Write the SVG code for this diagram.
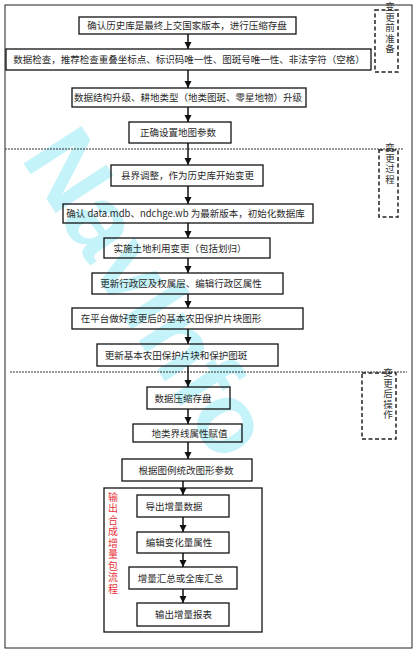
<svg xmlns="http://www.w3.org/2000/svg" width="419" height="652" viewBox="0 0 419 652">
<defs>
<style>
.box{fill:none;stroke:#111;stroke-width:1.3}
.t{font-family:"Noto Sans CJK SC","Liberation Serif",serif;font-size:9.5px;fill:#2a2a2a;text-anchor:middle}
.side{font-family:"Noto Sans CJK SC",sans-serif;font-size:9.5px;fill:#333;writing-mode:vertical-rl;letter-spacing:1px}
.red{font-family:"Noto Sans CJK SC",sans-serif;font-size:10px;fill:#e8333a;writing-mode:vertical-rl;letter-spacing:1.5px}
.dbox{fill:none;stroke:#222;stroke-width:1.5;stroke-dasharray:4 2.5}
.hd{stroke:#333;stroke-width:1;stroke-dasharray:2 1}
.c{stroke:#111;stroke-width:1.5;fill:none;marker-end:url(#ah)}
</style>
<marker id="ah" markerUnits="userSpaceOnUse" markerWidth="8" markerHeight="8" refX="7" refY="4" orient="auto">
<path d="M0,0.5 L7,4 L0,7.5 Z" fill="#111"/>
</marker>
</defs>
<rect x="0" y="0" width="419" height="652" fill="#fff"/>
<g id="watermark" opacity="0.3">
<text x="0" y="0" transform="translate(20,158) rotate(57)" font-family="Liberation Sans,sans-serif" font-weight="bold" font-size="100" fill="#3fd8ee">NavInfo</text>
</g>
<rect x="5" y="5" width="407" height="643" fill="none" stroke="#222" stroke-width="1"/>
<line class="hd" x1="5" y1="149" x2="404" y2="149"/>
<line class="hd" x1="10" y1="372" x2="407" y2="372"/>
<g id="connectors">
<line class="c" x1="188" y1="34" x2="188" y2="49"/>
<line class="c" x1="188" y1="70" x2="188" y2="88"/>
<line class="c" x1="188" y1="107" x2="188" y2="122"/>
<line class="c" x1="188" y1="143" x2="188" y2="165"/>
<line class="c" x1="188" y1="186" x2="188" y2="204"/>
<line class="c" x1="188" y1="223" x2="188" y2="238"/>
<line class="c" x1="188" y1="258" x2="188" y2="273"/>
<line class="c" x1="188" y1="294" x2="188" y2="308"/>
<line class="c" x1="188" y1="329" x2="188" y2="344"/>
<line class="c" x1="188" y1="366" x2="188" y2="387"/>
<line class="c" x1="188" y1="409" x2="188" y2="424"/>
<line class="c" x1="188" y1="442" x2="188" y2="459"/>
<line class="c" x1="183" y1="481" x2="183" y2="495"/>
<line class="c" x1="183" y1="517" x2="183" y2="532"/>
<line class="c" x1="183" y1="553" x2="183" y2="567"/>
<line class="c" x1="183" y1="589" x2="183" y2="603"/>
</g>
<g id="n1"><rect class="box" x="79" y="17" width="217" height="17"/><text class="t" x="187" y="29">确认历史库是最终上交国家版本，进行压缩存盘</text></g>
<g id="n2"><rect class="box" x="6" y="49" width="365" height="21"/><text class="t" x="189" y="63">数据检查，推荐检查重叠坐标点、标识码唯一性、图斑号唯一性、非法字符（空格）</text></g>
<g id="n3"><rect class="box" x="72" y="88" width="234" height="19"/><text class="t" x="188" y="101">数据结构升级、耕地类型（地类图斑、零星地物）升级</text></g>
<g id="n4"><rect class="box" x="129" y="122" width="102" height="21"/><text class="t" x="178" y="136">正确设置地图参数</text></g>
<g id="n5"><rect class="box" x="111" y="165" width="152" height="21"/><text class="t" x="187.5" y="179">县界调整，作为历史库开始变更</text></g>
<g id="n6"><rect class="box" x="63" y="204" width="250" height="19"/><text class="t" x="185.5" y="217">确认 data.mdb、ndchge.wb 为最新版本，初始化数据库</text></g>
<g id="n7"><rect class="box" x="104" y="238" width="166" height="20"/><text class="t" x="180" y="251.5">实施土地利用变更（包括划归）</text></g>
<g id="n8"><rect class="box" x="92" y="273" width="191" height="21"/><text class="t" x="181" y="287">更新行政区及权属层、编辑行政区属性</text></g>
<g id="n9"><rect class="box" x="72" y="308" width="231" height="21"/><text class="t" x="171" y="322">在平台做好变更后的基本农田保护片块图形</text></g>
<g id="n10"><rect class="box" x="97" y="344" width="181" height="22"/><text class="t" x="176" y="358.5">更新基本农田保护片块和保护图斑</text></g>
<g id="n11"><rect class="box" x="147" y="387" width="83" height="22"/><text class="t" x="183" y="401.5">数据压缩存盘</text></g>
<g id="n12"><rect class="box" x="133" y="424" width="109" height="18"/><text class="t" x="189.5" y="436.5">地类界线属性赋值</text></g>
<g id="n13"><rect class="box" x="122" y="459" width="130" height="22"/><text class="t" x="186" y="473.5">根据图例统改图形参数</text></g>
<g id="group"><rect class="box" x="104" y="488" width="158" height="144"/>
<text class="red" x="113" y="492">输出合成增量包流程</text></g>
<g id="n14"><rect class="box" x="137" y="495" width="92" height="22"/><text class="t" x="174" y="509.5">导出增量数据</text></g>
<g id="n15"><rect class="box" x="137" y="532" width="92" height="21"/><text class="t" x="179" y="546">编辑变化量属性</text></g>
<g id="n16"><rect class="box" x="129" y="567" width="108" height="22"/><text class="t" x="180.5" y="581.5">增量汇总或全库汇总</text></g>
<g id="n17"><rect class="box" x="137" y="603" width="92" height="23"/><text class="t" x="183.5" y="618">输出增量报表</text></g>
<g id="s1"><rect class="dbox" x="375" y="10" width="23" height="62"/>
<text class="side" x="390" y="2">变更前准备</text></g>
<g id="s2"><rect class="dbox" x="379" y="150" width="19" height="67"/>
<text class="side" x="390" y="143">变更过程</text></g>
<g id="s3"><rect class="dbox" x="362" y="373" width="34" height="66"/>
<text class="side" x="388" y="368">变更后操作</text></g>
</svg>
